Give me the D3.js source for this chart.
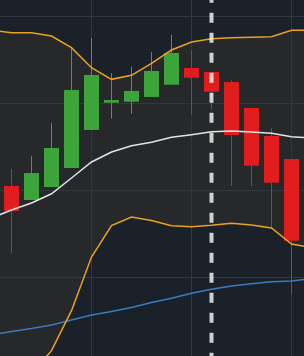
<!DOCTYPE html>
<html>
<head>
<meta charset="utf-8">
<script src="https://cdn.jsdelivr.net/npm/d3@7"></script>
<style>
  html, body { margin: 0; padding: 0; background: #1b2129; }
  svg { display: block; }
</style>
</head>
<body>
<div id="chart"></div>
<script>
// candles, index 0..14
let opens  = [110.46, 108.85, 110.34, 112.53, 116.90, 120.03, 120.15, 120.69, 122.10, 124.02, 123.56, 122.41, 119.43, 116.21, 113.56];
let highs  = [112.41, 113.91, 117.70, 126.32, 127.47, 123.45, 124.14, 125.86, 127.82, 126.09, 123.56, 122.64, 119.43, 117.13, 113.56];
let lows   = [102.76, 108.85, 110.34, 112.53, 116.90, 118.20, 118.77, 120.69, 122.10, 118.66, 119.23, 110.46, 110.46, 105.63, 98.08];
let closes = [107.59, 111.95, 114.83, 121.49, 123.22, 120.34, 121.38, 123.68, 125.75, 122.91, 121.30, 116.32, 112.79, 110.84, 104.17];

// bollinger + slow average, index -1..15
let lineIdx   = [-1, 0, 1, 2, 3, 4, 5, 6, 7, 8, 9, 10, 11, 12, 13, 14, 15];
let upperBand = [128.39, 128.08, 128.08, 127.70, 126.36, 124.06, 122.72, 123.18, 124.56, 126.09, 127.01, 127.39, 127.51, 127.55, 127.62, 128.36, 128.36];
let midBand   = [106.78, 107.70, 108.51, 109.57, 111.38, 113.22, 114.37, 115.09, 115.48, 116.06, 116.36, 116.70, 116.78, 116.67, 116.52, 116.13, 115.98];
let lowerBand = [85.86, 87.01, 88.85, 91.53, 96.13, 102.30, 105.90, 106.90, 106.49, 105.90, 105.78, 105.94, 106.17, 105.98, 105.63, 103.79, 103.39];
let slowLine  = [93.33, 93.74, 94.08, 94.48, 95.06, 95.63, 96.03, 96.49, 97.07, 97.55, 98.13, 98.59, 98.97, 99.23, 99.46, 99.54, 99.83];

let gridPrices = [90, 100, 110, 120, 130];
let gridIdx = [4, 9, 14];
let markerIdx = 10;

let width = 304, height = 356;

let svg = d3.select('#chart').append('svg').attr('width', width).attr('height', height);

let x = d3.scaleLinear().domain([0, 14]).range([11.5, 291.5]);
let y = d3.scaleLinear().domain([100, 130]).range([277, 16]);

svg.append('rect').attr('width', width).attr('height', height).attr('fill', '#1b2129');

// заливка канала
let bandData = lineIdx.map((d, i) => ({ i: d, hi: upperBand[i], lo: lowerBand[i] }));
svg.append('path')
    .datum(bandData)
    .attr('fill', '#262829')
    .attr('d', d3.area().x(d => x(d.i)).y0(d => y(d.lo)).y1(d => y(d.hi)));

// сетка
svg.selectAll('.hgrid')
    .data(gridPrices)
    .enter()
    .append('line')
    .attr('x1', 0).attr('x2', width)
    .attr('y1', d => Math.round(y(d)) + 0.5)
    .attr('y2', d => Math.round(y(d)) + 0.5)
    .attr('stroke', '#33373d').attr('stroke-width', 1);

svg.selectAll('.vgrid')
    .data(gridIdx)
    .enter()
    .append('line')
    .attr('x1', d => x(d)).attr('x2', d => x(d))
    .attr('y1', 0).attr('y2', height)
    .attr('stroke', '#33373d').attr('stroke-width', 1);

// свечи
let candles = opens.map((o, i) => ({ i: i, o: o, h: highs[i], l: lows[i], c: closes[i] }));
let up = '#3ba53b', down = '#e11d1d';

let g = svg.selectAll('.candle')
    .data(candles)
    .enter()
    .append('g');

g.append('line')
    .attr('x1', d => x(d.i)).attr('x2', d => x(d.i))
    .attr('y1', d => y(d.h)).attr('y2', d => y(d.l))
    .attr('stroke', d => d.c >= d.o ? up : down)
    .attr('stroke-width', 1);

g.append('rect')
    .attr('x', d => x(d.i) - 7.5)
    .attr('width', 15)
    .attr('y', d => y(Math.max(d.o, d.c)))
    .attr('height', d => Math.max(2, y(Math.min(d.o, d.c)) - y(Math.max(d.o, d.c))))
    .attr('fill', d => d.c >= d.o ? up : down);

// линии
function drawLine(values, color) {
    svg.append('path')
        .datum(values.map((v, i) => ({ i: lineIdx[i], v: v })))
        .attr('fill', 'none')
        .attr('stroke', color)
        .attr('stroke-width', 1.5)
        .attr('d', d3.line().x(d => x(d.i)).y(d => y(d.v)));
}

drawLine(slowLine, '#3a7cc0');
drawLine(lowerBand, '#eba21f');
drawLine(upperBand, '#eba21f');
drawLine(midBand, '#e4e4e4');

// пунктир
svg.append('line')
    .attr('x1', x(markerIdx)).attr('x2', x(markerIdx))
    .attr('y1', 0).attr('y2', height)
    .attr('stroke', '#ffffff')
    .attr('stroke-opacity', 0.78)
    .attr('stroke-width', 4)
    .attr('stroke-dasharray', '10,10')
    .attr('stroke-dashoffset', 7.3);
</script>
</body>
</html>
